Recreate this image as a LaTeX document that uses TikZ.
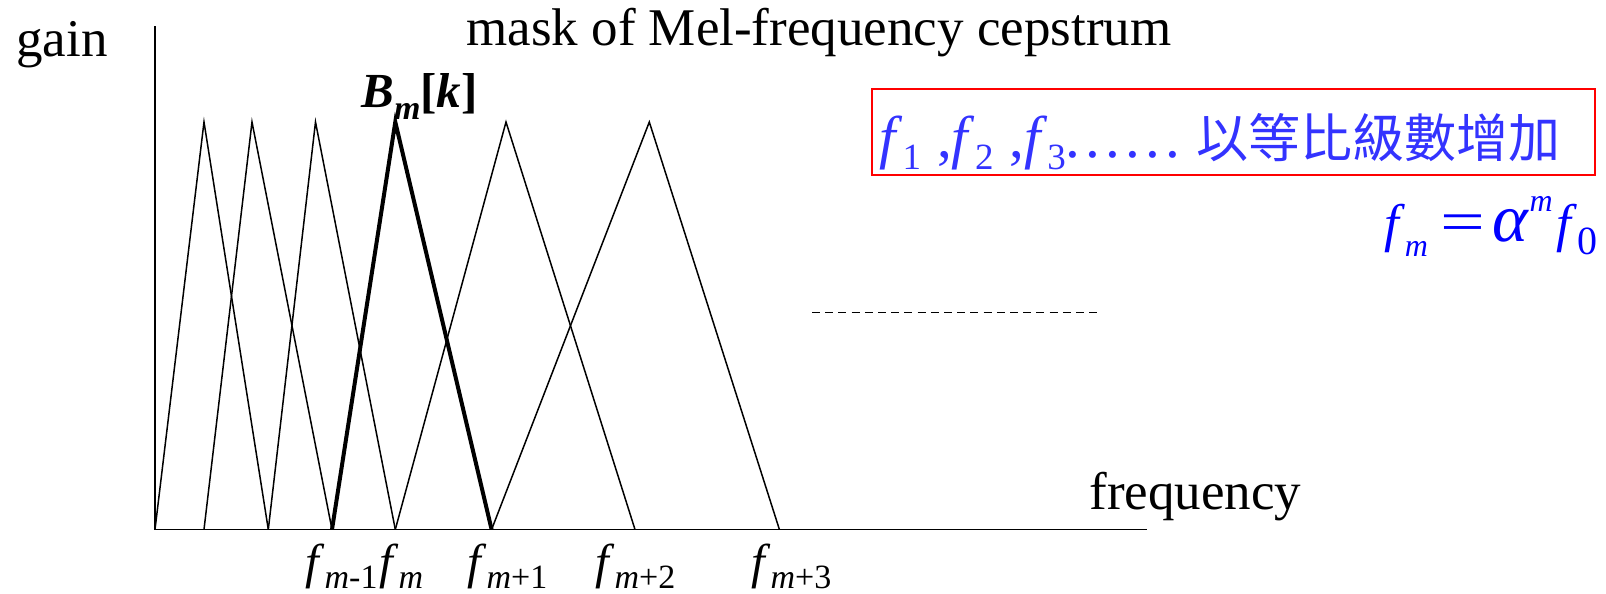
\documentclass[tikz,border=0pt]{standalone}
\usepackage{fontspec}
\setmainfont{Liberation Serif}
\newfontfamily\cjk{Noto Sans CJK TC}
\usepackage{tikz}
\usetikzlibrary{positioning}
\definecolor{txtblue}{RGB}{51,51,255}
\definecolor{mathblue}{RGB}{0,0,255}
\newcommand{\fsub}[1]{\textit{f}\raisebox{-0.22em}{\fontsize{17}{17}\selectfont #1}}
\newcommand{\bluef}[1]{\textit{f}\raisebox{-6pt}{\fontsize{18.5}{18.5}\selectfont #1}}
\newcommand{\sixdots}{.\kern2.6pt.\kern2.6pt.\kern2.6pt.\kern2.6pt.\kern2.6pt.}

\begin{document}
\begin{tikzpicture}[
		x=0.5pt, y=-0.5pt,
		every node/.style={
			inner sep=0pt,
			font=\fontsize{26.5}{30}\selectfont
		},
		axisline/.style={line width=1.4pt},
		tri/.style={line width=0.75pt},
		thicktri/.style={line width=2pt},
		flabel/.style={anchor=base west, font=\fontsize{24.5}{28}\selectfont},
		bluetext/.style={text=txtblue}
		]
		\useasboundingbox (0,0) rectangle (1606,594);
		
		\coordinate (origin) at (155,529.5);
		\coordinate (ytop) at (155,26);
		\coordinate (xend) at (1147,529.5);
		
		\draw[axisline] (ytop) -- (origin);
		\draw[line width=0.9pt] (origin) -- (xend);
		
		\draw[tri] (155,529.5) -- (204,122) -- (268.3,529.5);
		\draw[tri] (204,529.5) -- (252,122) -- (332,529.5);
		\draw[tri] (268.3,529.5) -- (315.5,122) -- (395.3,529.5);
		\draw[thicktri] (332,529.5) -- (395.3,122) -- (491.6,529.5);
		\draw[tri] (395.3,529.5) -- (506,122) -- (635,529.5);
		\draw[tri] (491.6,529.5) -- (649.3,122) -- (779.4,529.5);
		
		\draw[line width=0.5pt, dash pattern=on 4pt off 2.6pt] (812,312.4) -- (1101,312.4);
		
		\node (gain) [anchor=base west] at (16,56) {gain};
		\node (title) [anchor=base west] at (466,46) {mask of Mel-frequency cepstrum};
		\node (freq) [anchor=base west] at (1089,509) {frequency};
		
		\node (bm) [anchor=base west, font=\fontsize{24.5}{28}\selectfont\bfseries] at (361,107)
		{\textit{B}\raisebox{-0.25em}{\fontsize{17}{17}\selectfont\textit{m}}[\textit{k}]};
		
		\node (fa) [flabel] at (305,578) {\fsub{\textit{m}-1}};
		\node (fb) [flabel] at (379,578) {\fsub{\textit{m}}};
		\node (fc) [flabel] at (467,578) {\fsub{\textit{m}+1}};
		\node (fd) [flabel] at (595,578) {\fsub{\textit{m}+2}};
		\node (fe) [flabel] at (751,578) {\fsub{\textit{m}+3}};
		
		\node (box) [draw=red, line width=1pt, anchor=north west,
		minimum width=361.5pt, minimum height=43pt] at (870.6,88) {};
		\node (series) [anchor=base west, bluetext, font=\fontsize{29.5}{34}\selectfont] at (879,157)
		{\bluef{1}\hspace{8pt},\bluef{2}\hspace{8pt},\bluef{3}\sixdots\hspace{8pt}{\cjk\fontsize{26}{30}\selectfont 以等比級數增加}};
		
		\node (rule) [anchor=base east, text=mathblue] at (1598,241)
		{\textit{f}\raisebox{-0.3em}{\fontsize{16}{16}\selectfont\textit{m}}\hspace{6pt}\scalebox{1.5}[1.1]{=}\hspace{4pt}{\fontsize{34}{34}\selectfont\textit{α}}\raisebox{0.55em}{\fontsize{16}{16}\selectfont\textit{m}}\hspace{2pt}\textit{f}\raisebox{-0.25em}{\fontsize{20}{20}\selectfont 0}};
		
	\end{tikzpicture}
\end{document}
